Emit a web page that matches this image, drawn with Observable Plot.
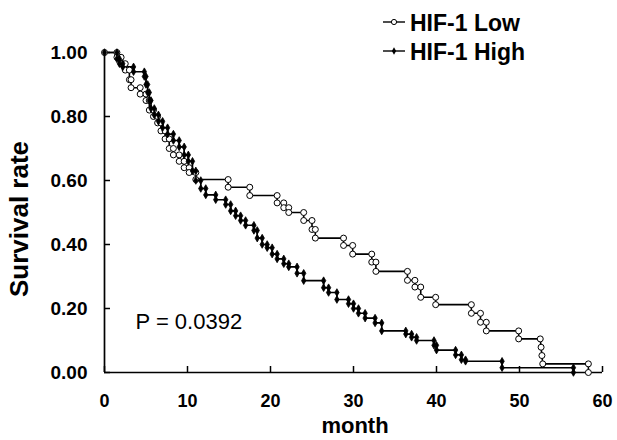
<!DOCTYPE html>
<html>
<head>
<meta charset="utf-8">
<script src="https://cdn.jsdelivr.net/npm/d3@7"></script>
<script src="https://cdn.jsdelivr.net/npm/@observablehq/plot@0.6"></script>
<style>
  html, body { margin: 0; padding: 0; background: #fff; }
  #chart svg { display: block; font-family: "Liberation Sans", Arial, sans-serif; }
</style>
</head>
<body>
<div id="chart"></div>
<script>
// Series labels
const seriesNames = ["HIF-1 Low", "HIF-1 High"];
const xTicks = [0, 10, 20, 30, 40, 50, 60];
const yTicks = [0, 0.2, 0.4, 0.6, 0.8, 1.0];
const xTitle = "month";
const yTitle = "Survival rate";
const pValueLabel = "P = 0.0392";

// HIF-1 Low: step-curve vertices (month, survival)
const lowMonths = [0,1.5,1.5,2.0,2.0,2.5,2.5,3.0,3.0,3.2,3.2,4.3,4.3,5.0,5.0,5.4,5.4,5.9,5.9,6.4,6.4,6.8,6.8,7.3,7.3,7.8,7.8,8.3,8.3,9.0,9.0,9.6,9.6,10.2,10.2,11.0,11.0,14.9,14.9,17.5,17.5,20.8,20.8,21.6,21.6,22.2,22.2,24.0,24.0,25.0,25.0,25.4,25.4,28.8,28.8,29.9,29.9,32.2,32.2,32.7,32.7,36.5,36.5,37.4,37.4,38.1,38.1,39.9,39.9,44.2,44.2,45.3,45.3,46.0,46.0,49.9,49.9,52.5,52.6,52.7,52.8,58.3,58.3];
const lowSurvival = [1.0,1.0,0.985,0.985,0.965,0.965,0.945,0.945,0.915,0.915,0.89,0.89,0.87,0.87,0.85,0.85,0.82,0.82,0.80,0.80,0.78,0.78,0.755,0.755,0.73,0.73,0.70,0.70,0.68,0.68,0.66,0.66,0.64,0.64,0.625,0.625,0.603,0.603,0.579,0.579,0.553,0.553,0.53,0.53,0.515,0.515,0.50,0.50,0.475,0.475,0.447,0.447,0.42,0.42,0.397,0.397,0.37,0.37,0.345,0.345,0.316,0.316,0.288,0.288,0.267,0.267,0.235,0.235,0.212,0.212,0.185,0.185,0.157,0.157,0.13,0.13,0.105,0.105,0.079,0.053,0.027,0.027,0.0];

// HIF-1 High: step-curve vertices (month, survival)
const highMonths = [0,1.5,1.5,1.8,1.8,2.2,2.2,3.5,3.5,4.8,4.8,5.0,5.0,5.2,5.2,5.4,5.4,5.6,5.6,6.0,6.0,6.5,6.5,7.0,7.0,7.6,7.6,8.3,8.3,9.0,9.0,9.6,9.6,10.1,10.1,10.6,10.6,11.0,11.0,11.6,11.6,12.2,12.2,13.4,13.4,14.6,14.6,15.2,15.2,15.8,15.8,16.4,16.4,17.0,17.0,18.0,18.0,18.4,18.4,19.0,19.0,19.6,19.6,20.2,20.2,20.8,20.8,21.6,21.6,22.2,22.2,23.2,23.2,24.0,24.0,26.4,26.4,27.0,27.0,28.0,28.0,29.4,29.4,30.0,30.0,30.6,30.6,31.4,31.4,32.6,32.6,33.4,33.4,36.3,36.3,37.0,37.0,37.6,37.6,39.7,39.7,40.0,40.0,42.3,42.3,43.0,43.0,43.5,43.5,47.9,47.9,56.5,56.5];
const highSurvival = [1.0,1.0,0.98,0.98,0.965,0.965,0.955,0.955,0.94,0.94,0.925,0.925,0.90,0.90,0.875,0.875,0.85,0.85,0.825,0.825,0.805,0.805,0.785,0.785,0.765,0.765,0.745,0.745,0.725,0.725,0.705,0.705,0.68,0.68,0.66,0.66,0.63,0.63,0.60,0.60,0.575,0.575,0.555,0.555,0.54,0.54,0.525,0.525,0.505,0.505,0.49,0.49,0.475,0.475,0.46,0.46,0.444,0.444,0.42,0.42,0.40,0.40,0.39,0.39,0.37,0.37,0.355,0.355,0.34,0.34,0.33,0.33,0.31,0.31,0.287,0.287,0.265,0.265,0.25,0.25,0.228,0.228,0.215,0.215,0.20,0.20,0.185,0.185,0.17,0.17,0.155,0.155,0.13,0.13,0.12,0.12,0.11,0.11,0.10,0.10,0.085,0.085,0.07,0.07,0.055,0.055,0.04,0.04,0.035,0.035,0.015,0.015,0.0];

const low = lowMonths.map((m, i) => ({month: m, survival: lowSurvival[i]}));
const high = highMonths.map((m, i) => ({month: m, survival: highSurvival[i]}));

const FONT = '"Liberation Sans", Arial, sans-serif';

const plot = Plot.plot({
  width: 617,
  height: 440,
  marginLeft: 104,
  marginRight: 15,
  marginTop: 52,
  marginBottom: 68,
  style: {fontFamily: FONT, background: "#fff", color: "#000", overflow: "visible"},
  x: {domain: [0, 60]},
  y: {domain: [0, 1]},
  marks: [
    // tick marks pointing inward
    Plot.axisX({ticks: xTicks, tickSize: -6, text: null, label: null, strokeWidth: 1.5}),
    Plot.axisY({ticks: yTicks, tickSize: -6, text: null, label: null, strokeWidth: 1.5}),
    // tick labels
    Plot.axisX({ticks: xTicks, tickSize: 0, tickPadding: 22, fontSize: 18, fontWeight: "bold", label: null}),
    Plot.axisY({ticks: yTicks, tickSize: 0, tickPadding: 17, fontSize: 19, fontWeight: "bold",
      tickFormat: d3.format(".2f"), label: null}),
    Plot.ruleX([0], {strokeWidth: 1.7}),
    Plot.ruleY([0], {strokeWidth: 1.7}),
    Plot.line(low, {x: "month", y: "survival", stroke: "#000", strokeWidth: 1.6}),
    Plot.line(high, {x: "month", y: "survival", stroke: "#000", strokeWidth: 1.6}),
    Plot.dot(low, {x: "month", y: "survival", r: 3, fill: "#fff", stroke: "#000", strokeWidth: 1}),
    Plot.dot(high, {x: "month", y: "survival", r: 2.3, symbol: "diamond", fill: "#000", stroke: "#000", strokeWidth: 0.8}),
    Plot.text([pValueLabel], {text: d => d, frameAnchor: "bottom-left", dx: 31, dy: -44,
      fontSize: 22, textAnchor: "start", fill: "#000"})
  ]
});

const svg = d3.select(plot);

// Axis titles
svg.append("text").attr("x", 355).attr("y", 433).attr("text-anchor", "middle")
  .attr("font-family", FONT).attr("font-size", 22).attr("font-weight", "bold").attr("fill", "#000")
  .text(xTitle);
svg.append("text").attr("transform", "translate(28,219) rotate(-90)").attr("text-anchor", "middle")
  .attr("font-family", FONT).attr("font-size", 26).attr("font-weight", "bold").attr("fill", "#000")
  .text(yTitle);

// Legend inside the SVG top-right
const legend = svg.append("g").attr("font-family", FONT);
const items = [
  {name: seriesNames[0], lineY: 22, baseY: 31, open: true},
  {name: seriesNames[1], lineY: 51, baseY: 60, open: false}
];
items.forEach(it => {
  const g = legend.append("g");
  g.append("line").attr("x1", 383).attr("x2", 405).attr("y1", it.lineY).attr("y2", it.lineY)
    .attr("stroke", "#000").attr("stroke-width", 1.4);
  if (it.open) {
    g.append("circle").attr("cx", 394).attr("cy", it.lineY).attr("r", 2.6)
      .attr("fill", "#fff").attr("stroke", "#000");
  } else {
    g.append("path").attr("d", d3.symbol(d3.symbolDiamond, 16)())
      .attr("transform", `translate(394,${it.lineY})`).attr("fill", "#000");
  }
  g.append("text").attr("x", 410).attr("y", it.baseY).attr("text-anchor", "start")
    .attr("font-size", 23).attr("font-weight", "bold").attr("fill", "#000").text(it.name);
});

document.getElementById("chart").appendChild(plot);
</script>
</body>
</html>
